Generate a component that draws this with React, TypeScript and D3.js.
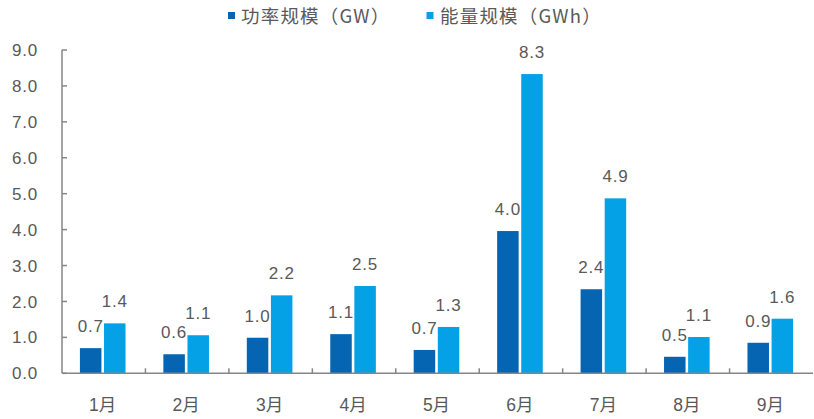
import React from "react";
import * as d3 from "d3";

const categories = ["1月", "2月", "3月", "4月", "5月", "6月", "7月", "8月", "9月"];
const powerValues = [0.7, 0.53, 0.99, 1.09, 0.65, 3.96, 2.34, 0.46, 0.85];
const energyValues = [1.39, 1.06, 2.17, 2.43, 1.29, 8.33, 4.87, 1.01, 1.52];
const powerLabels = ["0.7", "0.6", "1.0", "1.1", "0.7", "4.0", "2.4", "0.5", "0.9"];
const energyLabels = ["1.4", "1.1", "2.2", "2.5", "1.3", "8.3", "4.9", "1.1", "1.6"];
const seriesNames = ["功率规模（GW）", "能量规模（GWh）"];
const yTicks = [0, 1, 2, 3, 4, 5, 6, 7, 8, 9];

const W = 814;
const H = 419;
const left = 62;
const right = 813;
const top = 50;
const bottom = 373.3;
const darkColor = "#0565B2";
const lightColor = "#05A1E6";
const textColor = "#595959";
const axisColor = "#868686";
const font = "'Liberation Sans', Arial, 'Noto Sans CJK SC', sans-serif";
const cjk = "'Noto Sans CJK SC', sans-serif";

export default function App() {
  const x = d3.scaleBand<string>().domain(categories).range([left, right]);
  const y = d3.scaleLinear().domain([0, 9]).range([bottom, top]);
  const barW = 21.5;
  const gap = 2.6;
  const bw = x.bandwidth();

  return (
    <svg width={W} height={H} style={{ position: "absolute", left: 0, top: 0 }} fontFamily={font}>
      <rect x={0} y={0} width={W} height={H} fill="#fff" />
      {/* legend */}
      <rect x={228} y={12} width={7} height={7} fill={darkColor} />
      <text x={241} y={22.5} fontSize={18.5} letterSpacing={1.2} fill={textColor} fontFamily={cjk}>{seriesNames[0]}</text>
      <rect x={426.5} y={12} width={7} height={7} fill={lightColor} />
      <text x={440} y={22.5} fontSize={18.5} letterSpacing={1.2} fill={textColor} fontFamily={cjk}>{seriesNames[1]}</text>

      {/* y axis */}
      <line x1={left} x2={left} y1={top} y2={bottom} stroke={axisColor} strokeWidth={1.5} />
      {yTicks.map((t) => (
        <g key={t}>
          <line x1={left} x2={left + 5} y1={y(t)} y2={y(t)} stroke={axisColor} strokeWidth={1.5} />
          <text x={38} y={y(t)} dy="0.36em" textAnchor="end" fontSize={17} letterSpacing={0.8} fill={textColor}>
            {t.toFixed(1)}
          </text>
        </g>
      ))}

      {/* bars */}
      {categories.map((c, i) => {
        const cx = (x(c) as number) + bw / 2 - 1;
        const xd = cx - gap / 2 - barW;
        const xl = cx + gap / 2;
        return (
          <g key={c}>
            <rect x={xd} y={y(powerValues[i])} width={barW} height={bottom - y(powerValues[i])} fill={darkColor} />
            <rect x={xl} y={y(energyValues[i])} width={barW} height={bottom - y(energyValues[i])} fill={lightColor} />
            <text x={xd + barW / 2} y={y(powerValues[i]) - 16} textAnchor="middle" fontSize={17} letterSpacing={0.8} fill={textColor}>
              {powerLabels[i]}
            </text>
            <text x={xl + barW / 2} y={y(energyValues[i]) - 16} textAnchor="middle" fontSize={17} letterSpacing={0.8} fill={textColor}>
              {energyLabels[i]}
            </text>
            <text x={cx} y={405} dy="0.36em" textAnchor="middle" fontSize={17.5} fill={textColor}>
              {c}
            </text>
          </g>
        );
      })}

      {/* x axis */}
      <line x1={left} x2={right} y1={bottom} y2={bottom} stroke={axisColor} strokeWidth={1.5} />
      {categories.slice(1).map((c) => (
        <line key={c} x1={x(c) as number} x2={x(c) as number} y1={bottom} y2={bottom - 5} stroke={axisColor} strokeWidth={1.5} />
      ))}
    </svg>
  );
}
